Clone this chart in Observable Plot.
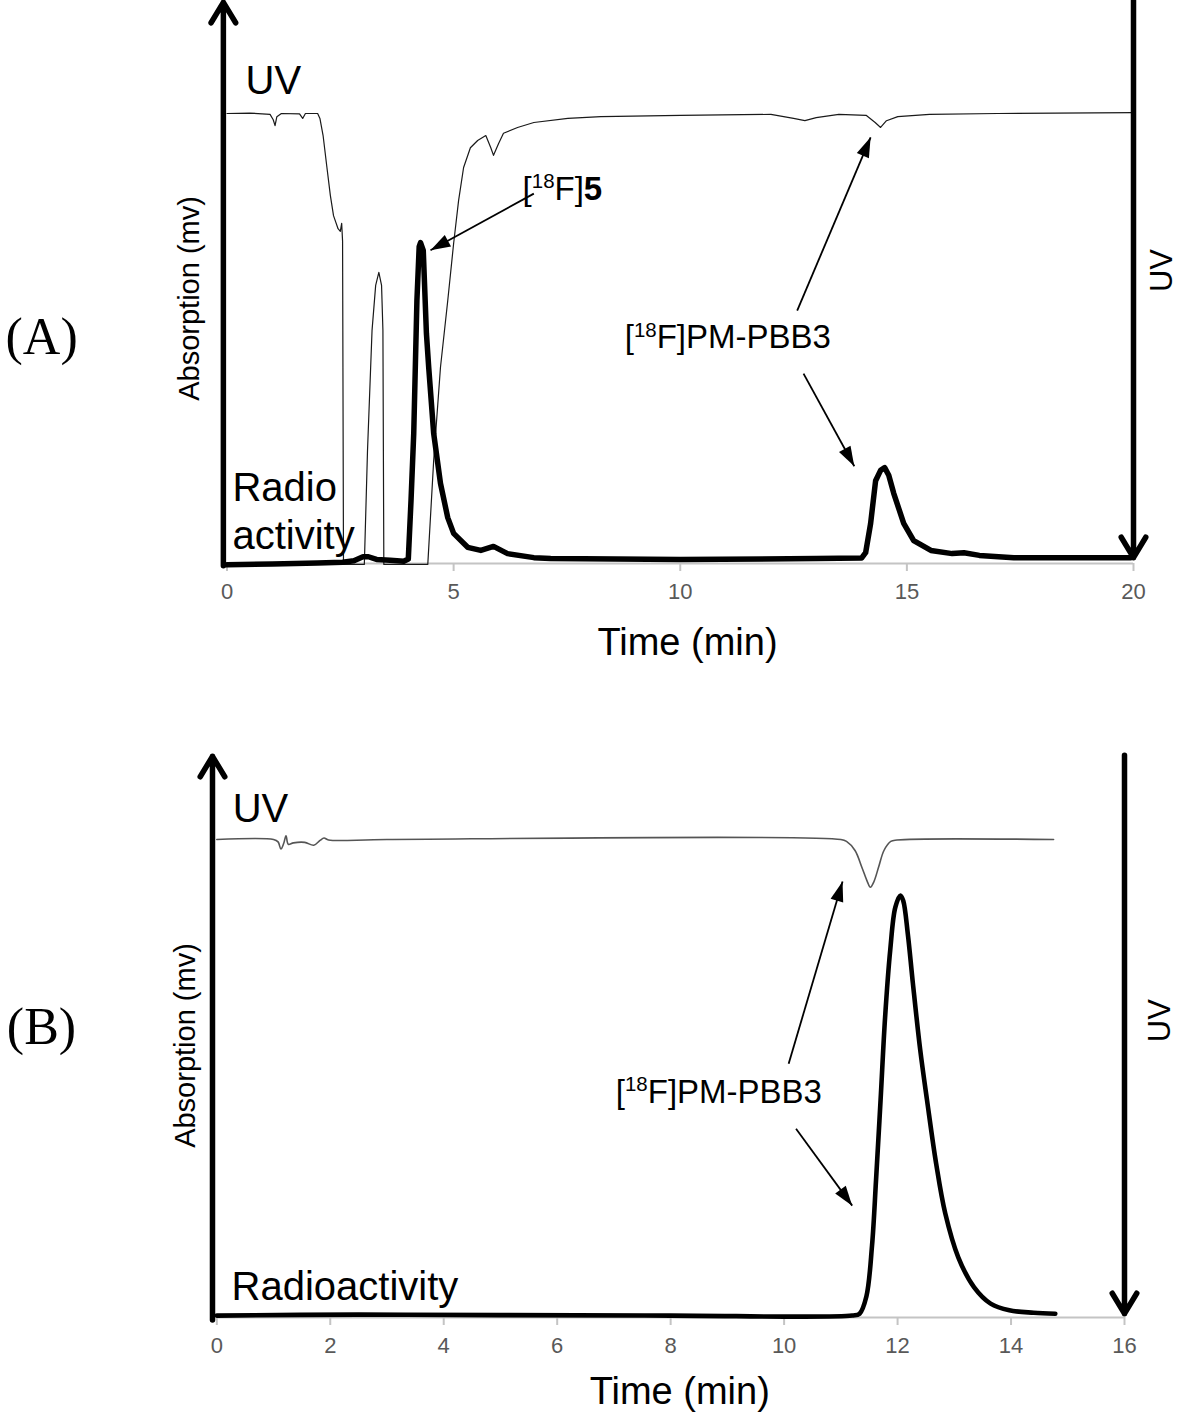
<!DOCTYPE html>
<html>
<head>
<meta charset="utf-8">
<script src="https://cdn.jsdelivr.net/npm/d3@7"></script>
<script src="https://cdn.jsdelivr.net/npm/@observablehq/plot@0.6"></script>
<style>
  body { margin: 0; background: #fff; }
  #chart svg { display: block; }
</style>
</head>
<body>
<div id="chart"></div>
<script>
// ---------------- DATA (time in min, signal in relative units: 0 = baseline, 100 = UV baseline) ----------------
// Panel A
const ticksA = [0, 5, 10, 15, 20];
const uvA = [
  [0,100],[0.5,100.1],[0.95,99.8],[1.02,98.6],[1.06,97.3],[1.1,99.3],[1.2,100],[1.6,99.9],[1.67,98.9],[1.73,100],
  [2.0,100],[2.05,98.9],[2.12,95.1],[2.2,88.4],[2.28,81.8],[2.35,77.3],[2.45,74.4],[2.5,73.8],[2.53,75.6],[2.55,71.6],
  [2.57,-0.2],[3.03,-0.2],[3.1,25.1],[3.2,51.8],[3.28,61.8],[3.35,64.7],[3.41,61.8],[3.44,51.8],[3.46,-0.2],
  [4.43,-0.2],[4.56,22.9],[4.71,43.6],[4.87,58.4],[5.0,71.1],[5.11,80.7],[5.22,88.0],[5.37,92.4],[5.53,94.0],
  [5.71,95.1],[5.82,92.4],[5.88,90.7],[5.99,93.3],[6.1,95.6],[6.41,96.9],[6.77,98.0],[7.52,98.9],[8.25,99.3],
  [10,99.6],[12.0,99.8],[12.5,98.9],[12.75,98.4],[13.0,99.1],[13.5,99.8],[14.1,99.6],[14.3,98.0],[14.42,96.9],
  [14.55,98.4],[14.8,99.3],[15.5,99.8],[17,100],[20,100.2]
];
const radioA = [
  [0,-0.3],[1,-0.1],[2,0.1],[2.55,0.3],[2.8,0.6],[3.0,1.5],[3.12,1.5],[3.3,0.9],[3.6,0.7],[3.9,0.5],[4.0,1.0],
  [4.06,14],[4.12,28.9],[4.19,58.4],[4.24,70.4],[4.27,71.3],[4.33,69.6],[4.40,51.1],[4.45,43.6],[4.56,28.9],
  [4.71,17.8],[4.87,10.2],[5.0,6.7],[5.31,3.6],[5.6,2.9],[5.88,3.8],[6.19,2.2],[6.77,1.3],[7.14,1.1],[10,0.9],
  [13,1.1],[14.0,1.2],[14.09,2.4],[14.2,8.9],[14.31,18.4],[14.42,20.7],[14.51,21.3],[14.6,19.6],[14.71,15.6],
  [14.93,8.9],[15.15,5.1],[15.53,2.9],[16.0,2.2],[16.26,2.4],[16.6,1.8],[17.36,1.3],[19.94,1.3]
];
const annotationArrowsA = [
  {t1: 6.77, v1: 82.2, t2: 4.49, v2: 69.6},
  {t1: 12.58, v1: 56.2, t2: 14.2, v2: 94.7},
  {t1: 12.72, v1: 42.2, t2: 13.84, v2: 21.6}
];
const axisArrowsA = [
  {t1: -0.08, v1: -0.5, t2: -0.08, v2: 124.7},
  {t1: 20, v1: 125.1, t2: 20, v2: 1.3}
];
const seriesLabelsA = [
  {text: "UV", t: 0.41, v: 104.4},
  {text: "Radio\nactivity", t: 0.12, v: 3.3}
];
const peakLabelsA = [
  {text: "[18F]5", t: 7.4, v: 80.7},
  {text: "[18F]PM-PBB3", t: 11.05, v: 47.8}
];
const axisTitleA = [{text: "Time (min)", t: 10.16, v: -20.4}];
const yTitleA = [{text: "Absorption (mv)", t: -0.83, v: 58.9}];
const rightTitleA = [{text: "UV", t: 20.64, v: 65.1}];
const panelLetterA = [{text: "(A)", t: -4.09, v: 50.2}];

// Panel B
const ticksB = [0, 2, 4, 6, 8, 10, 12, 14, 16];
const uvB = [
  [0,100],[1.0,100],[1.08,99.5],[1.13,98.0],[1.18,99.2],[1.22,100.8],[1.26,99.0],[1.35,99.3],[1.55,99.4],
  [1.71,98.8],[1.82,99.8],[1.89,100.3],[1.97,99.9],[3,100],[11.0,100],[11.1,99.6],[11.25,97.7],[11.37,94.2],
  [11.47,91.1],[11.52,90.0],[11.58,91.1],[11.67,94.4],[11.76,97.7],[11.88,99.6],[11.99,99.9],[14.75,100]
];
const radioB = [
  [0,0.4],[2.5,0.6],[5,0.5],[8,0.4],[11.2,0.4],[11.33,0.8],[11.45,4.4],[11.55,15.1],[11.62,28.7],[11.70,45.4],
  [11.78,62.8],[11.87,76.8],[11.96,85.8],[12.05,88.3],[12.10,87.2],[12.18,80.3],[12.27,69.9],[12.40,55.9],
  [12.52,45.4],[12.68,32.2],[12.84,21.8],[13.07,12.6],[13.35,6.3],[13.64,2.9],[13.97,1.5],[14.4,1.0],[14.78,0.8]
];
const annotationArrowsB = [
  {t1: 10.08, v1: 53.1, t2: 11.03, v2: 91.2},
  {t1: 10.21, v1: 39.5, t2: 11.2, v2: 23.4}
];
const axisArrowsB = [
  {t1: -0.076, v1: -0.5, t2: -0.076, v2: 117.4},
  {t1: 16, v1: 117.6, t2: 16, v2: 0.8}
];
const seriesLabelsB = [
  {text: "UV", t: 0.28, v: 103.6},
  {text: "Radioactivity", t: 0.26, v: 3.6}
];
const peakLabelsB = [
  {text: "[18F]PM-PBB3", t: 8.85, v: 44.8}
];
const axisTitleB = [{text: "Time (min)", t: 8.16, v: -18.0}];
const yTitleB = [{text: "Absorption (mv)", t: -0.55, v: 56.9}];
const rightTitleB = [{text: "UV", t: 16.62, v: 62.1}];
const panelLetterB = [{text: "(B)", t: -3.09, v: 60.7}];

// ---------------- DRAWING ----------------
const SANS = "'Liberation Sans', Arial, sans-serif";
const SERIF = "'Liberation Serif', 'Times New Roman', serif";
const PEAK_FS = 33;

// filled arrow head whose tip is at the symbol origin, pointing up
const arrowHead = {
  draw(ctx, size) {
    const L = Math.sqrt(size) * 0.56;
    const w = L * 0.33;
    ctx.moveTo(0, 0);
    ctx.lineTo(-w, L);
    ctx.lineTo(w, L);
    ctx.closePath();
  }
};

function panel(cfg) {
  const kx = (1182 - cfg.ml - cfg.mr) / cfg.xmax;
  const ky = (cfg.height - cfg.mt - cfg.mb) / 100;
  const heads = cfg.arrows.map(a => ({
    ...a,
    angle: Math.atan2((a.t2 - a.t1) * kx, (a.v2 - a.v1) * ky) * 180 / Math.PI
  }));
  return Plot.plot({
    width: 1182,
    height: cfg.height,
    marginLeft: cfg.ml, marginRight: cfg.mr, marginTop: cfg.mt, marginBottom: cfg.mb,
    style: {fontFamily: SANS, color: "#000", background: "#fff", overflow: "visible"},
    x: {domain: [0, cfg.xmax], label: null},
    y: {domain: [0, 100], axis: null},
    marks: [
      Plot.ruleY([0], {x1: 0, x2: cfg.xmax, stroke: "#c4c4c4", strokeWidth: 2}),
      Plot.axisX({ticks: cfg.ticks, tickSize: 8, tickPadding: 12, fontSize: 22, stroke: "#c4c4c4", strokeWidth: 2, fill: "#595959", label: null}),
      Plot.line(cfg.uv, {x: d => d[0], y: d => d[1], stroke: cfg.uvColor, strokeWidth: cfg.uvWidth, curve: cfg.curve}),
      Plot.line(cfg.radio, {x: d => d[0], y: d => d[1], stroke: "#000", strokeWidth: cfg.radioWidth, curve: cfg.curve, strokeLinejoin: "round"}),
      Plot.arrow(cfg.axisArrows, {x1: "t1", y1: "v1", x2: "t2", y2: "v2", stroke: "#000", strokeWidth: 5.5, headLength: 6.5, headAngle: 62}),
      Plot.link(cfg.arrows, {x1: "t1", y1: "v1", x2: "t2", y2: "v2", stroke: "#000", strokeWidth: 1.8}),
      Plot.dot(heads, {x: "t2", y: "v2", rotate: "angle", symbol: arrowHead, r: 20, fill: "#000", stroke: "none"}),
      Plot.text(cfg.seriesLabels, {x: "t", y: "v", text: "text", textAnchor: "start", lineAnchor: "bottom", fontSize: 40, lineHeight: 1.2, fill: "#000"}),
      Plot.text(cfg.peakLabels, {x: "t", y: "v", text: "text", textAnchor: "middle", lineAnchor: "bottom", fontSize: PEAK_FS, fill: "#000"}),
      Plot.text(cfg.axisTitle, {x: "t", y: "v", text: "text", textAnchor: "middle", lineAnchor: "bottom", fontSize: 38, fill: "#000"}),
      Plot.text(cfg.yTitle, {x: "t", y: "v", text: "text", textAnchor: "middle", rotate: -90, fontSize: 29, fill: "#000"}),
      Plot.text(cfg.rightTitle, {x: "t", y: "v", text: "text", textAnchor: "middle", rotate: -90, fontSize: 31, fill: "#000"}),
      Plot.text(cfg.letter, {x: "t", y: "v", text: "text", textAnchor: "middle", fontSize: 52, fontFamily: SERIF, fill: "#000"})
    ]
  });
}

function superscripts(svg) {
  d3.select(svg).selectAll("text").each(function () {
    const s = this.textContent;
    const m = s.match(/^\[18F\](.*)$/);
    if (!m) return;
    const fs = PEAK_FS;
    const el = d3.select(this);
    el.text(null);
    el.append("tspan").text("[");
    el.append("tspan").attr("font-size", fs * 0.62).attr("dy", -fs * 0.36).text("18");
    el.append("tspan").attr("dy", fs * 0.36).text("F]");
    const last = el.append("tspan").text(m[1]);
    if (m[1] === "5") last.attr("font-weight", "bold");
  });
}

const plotA = panel({
  height: 680, ml: 226.5, mr: 49, mt: 113, mb: 117, xmax: 20, ticks: ticksA,
  uv: uvA, radio: radioA, uvColor: "#1a1a1a", uvWidth: 1.2, radioWidth: 5.5, curve: "linear",
  arrows: annotationArrowsA, axisArrows: axisArrowsA, seriesLabels: seriesLabelsA, peakLabels: peakLabelsA,
  axisTitle: axisTitleA, yTitle: yTitleA, rightTitle: rightTitleA, letter: panelLetterA
});
const plotB = panel({
  height: 739, ml: 216.3, mr: 58, mt: 159, mb: 102, xmax: 16, ticks: ticksB,
  uv: uvB, radio: radioB, uvColor: "#555", uvWidth: 1.6, radioWidth: 4.6, curve: "catmull-rom",
  arrows: annotationArrowsB, axisArrows: axisArrowsB, seriesLabels: seriesLabelsB, peakLabels: peakLabelsB,
  axisTitle: axisTitleB, yTitle: yTitleB, rightTitle: rightTitleB, letter: panelLetterB
});
const chart = document.getElementById("chart");
chart.appendChild(plotA);
chart.appendChild(plotB);
superscripts(plotA);
superscripts(plotB);
</script>
</body>
</html>
